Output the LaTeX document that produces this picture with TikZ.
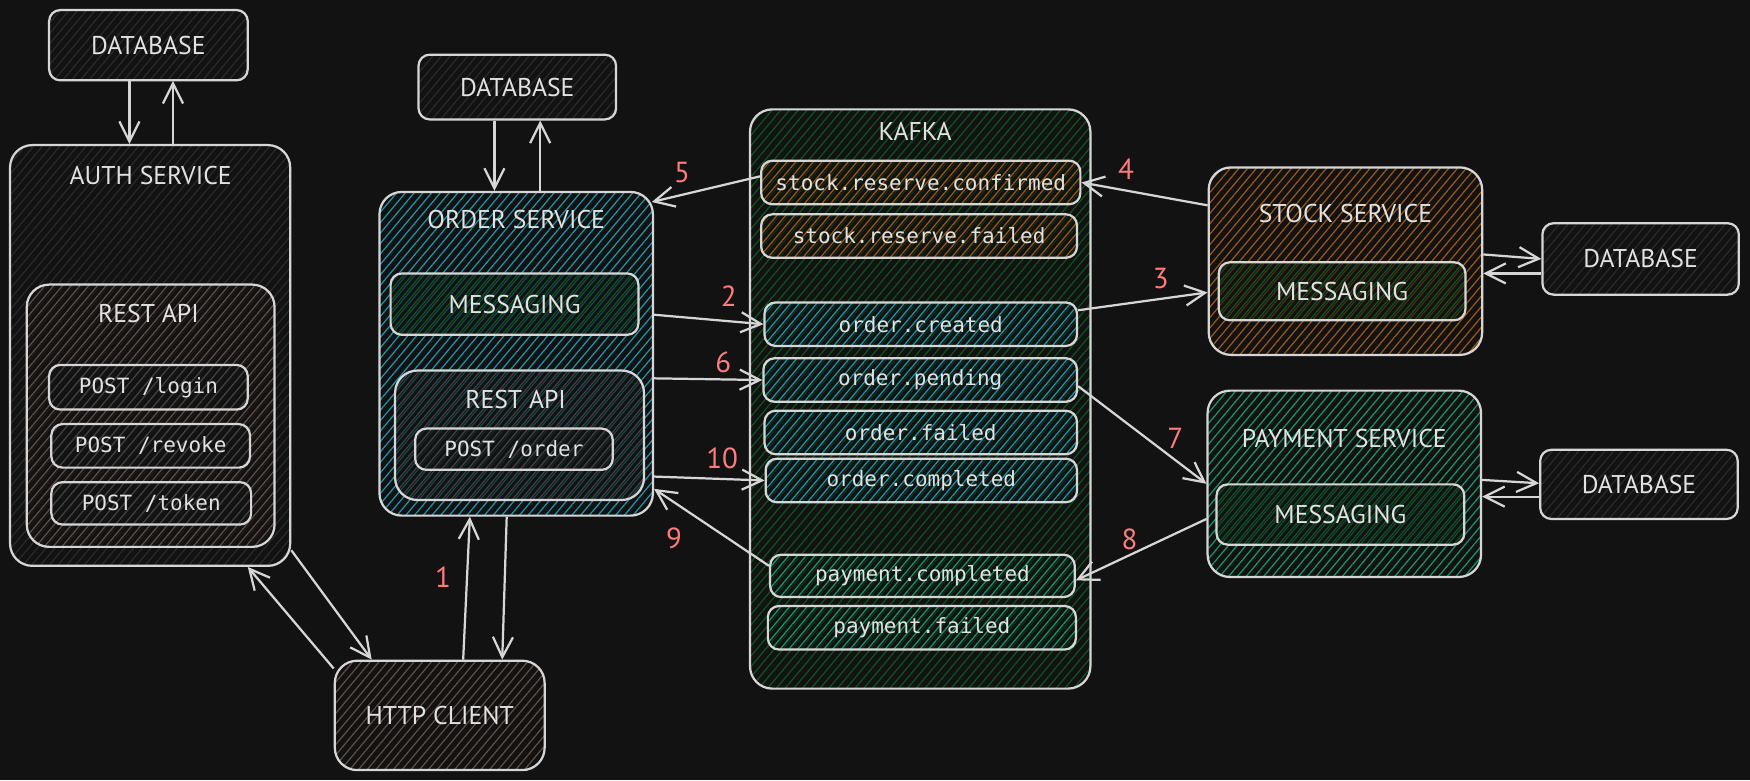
\documentclass[tikz,border=0pt]{standalone}
\usepackage{fontspec}
\setmainfont{PT Sans}
\newfontfamily\codefont{DejaVu Sans Mono}
\usetikzlibrary{patterns.meta,arrows.meta,calc}
\definecolor{bgc}{RGB}{18,18,18}
\definecolor{linec}{RGB}{214,214,214}
\definecolor{txtc}{RGB}{226,226,226}
\definecolor{numc}{RGB}{255,122,122}
\definecolor{hfaint}{RGB}{42,42,42}
\definecolor{hgray}{RGB}{64,64,64}
\definecolor{hbrown}{RGB}{98,78,68}
\definecolor{hcyan}{RGB}{24,150,172}
\definecolor{hdgreen}{RGB}{12,84,30}
\definecolor{horange}{RGB}{155,88,16}
\definecolor{hteal}{RGB}{18,150,110}
\tikzset{
  sz/.style 2 args={minimum width=#1*0.5pt, minimum height=#2*0.5pt},
  outerbox/.style={draw=linec, line width=1pt, rounded corners=10pt,
    preaction={fill=bgc},
    pattern={Lines[angle=50,distance=3pt,line width=0.55pt]}, pattern color=#1,
    text=txtc, inner sep=0pt, font=\fontsize{11.5}{13}\selectfont},
  innerbox/.style={draw=linec, line width=1pt, rounded corners=5pt,
    preaction={fill=bgc, fill opacity=0.6},
    pattern={Lines[angle=50,distance=3pt,line width=0.55pt,yshift=1.5pt]}, pattern color=#1,
    text=txtc, inner sep=0pt, font=\fontsize{11.5}{13}\selectfont},
  topic/.style={innerbox=#1, font=\codefont\fontsize{9.4}{11}\selectfont},
  ttl/.style={text=txtc, inner sep=0pt, font=\fontsize{11.5}{13}\selectfont},
  num/.style={text=numc, inner sep=0pt, font=\fontsize{13}{15}\selectfont},
  arr/.style={draw=linec, line width=1pt, -{Straight Barb[length=9pt,width=9pt,line width=1pt]}},
}
\begin{document}
\begin{tikzpicture}[x=0.5pt,y=-0.5pt]
\fill[bgc] (0,0) rectangle (1568,699);
\useasboundingbox (0,0) rectangle (1568,699);

% ---------- auth side
\node[outerbox=hfaint, sz={178}{63}, rounded corners=5pt] (adb) at (133,40.5) {DATABASE};
\node[outerbox=hfaint, sz={251}{377}] (auth) at (134.5,318.5) {};
\node[ttl] (authT) at (135,157) {AUTH SERVICE};
\node[innerbox=hbrown, sz={222}{235}, rounded corners=10pt] (arest) at (135,372.5) {};
\node[ttl] (arestT) at (133,281) {REST API};
\node[topic=hgray, sz={178}{40}] (login) at (133,347) {POST /login};
\node[topic=hgray, sz={178}{39}] (revoke) at (135,399.5) {POST /revoke};
\node[topic=hgray, sz={179}{38}] (token) at (135.5,451) {POST /token};

% ---------- http client
\node[outerbox=hbrown, sz={188}{98}] (http) at (394,641) {HTTP CLIENT};

% ---------- order side
\node[outerbox=hfaint, sz={177}{58}, rounded corners=5pt] (odb) at (463.5,78) {DATABASE};
\node[outerbox=hcyan, sz={245}{290}] (order) at (462.5,317) {};
\node[ttl] (orderT) at (462.5,197) {ORDER SERVICE};
\node[innerbox=hdgreen, sz={222}{55}] (omsg) at (461,272.5) {MESSAGING};
\node[innerbox=hgray, sz={223}{116}, rounded corners=10pt] (orest) at (465.5,390) {};
\node[ttl] (orestT) at (462,358) {REST API};
\node[topic=hgray, sz={177}{37}] (porder) at (460.5,402.5) {POST /order};

% ---------- kafka
\node[outerbox=hdgreen, sz={305}{519}] (kafka) at (824.5,357.5) {};
\node[ttl] (kafkaT) at (820,118) {KAFKA};
\node[topic=horange, sz={286}{39}] (t1) at (825,163.5) {stock.reserve.confirmed};
\node[topic=horange, sz={283}{39}] (t2) at (823.5,211.5) {stock.reserve.failed};
\node[topic=hcyan, sz={280}{39}] (t3) at (825,290.5) {\raisebox{-2pt}{order.created}};
\node[topic=hcyan, sz={281}{39}] (t4) at (824.5,340.5) {order.pending};
\node[topic=hcyan, sz={280}{39}] (t5) at (825,387.5) {order.failed};
\node[topic=hcyan, sz={279}{39}] (t6) at (825.5,430.5) {order.completed};
\node[topic=hteal, sz={273}{38}] (t7) at (826.5,516) {payment.completed};
\node[topic=hteal, sz={276}{39}] (t8) at (826,562.5) {payment.failed};

% ---------- stock
\node[outerbox=horange, sz={245}{168}] (stock) at (1205.5,234) {};
\node[ttl] (stockT) at (1205.5,191) {STOCK SERVICE};
\node[innerbox=hdgreen, sz={221}{52}] (smsg) at (1202.5,261) {MESSAGING};
\node[outerbox=hfaint, sz={176}{64}, rounded corners=5pt] (sdb) at (1470,232) {DATABASE};

% ---------- payment
\node[outerbox=hteal, sz={245}{167}] (pay) at (1204.5,433.5) {};
\node[ttl] (payT) at (1204.5,393) {PAYMENT SERVICE};
\node[innerbox=hdgreen, sz={222}{54}] (pmsg) at (1201,461) {MESSAGING};
\node[outerbox=hfaint, sz={177}{62}, rounded corners=5pt] (pdb) at (1468.5,434) {DATABASE};

% ---------- connectors
\draw[arr] ([xshift=-8.5pt]adb.south) -- ([xshift=-9.25pt]auth.north);
\draw[arr] ([xshift=10.25pt]auth.north) -- ([xshift=11pt]adb.south);
\draw[arr] ([xshift=-10.25pt]odb.south) -- ([xshift=-9.75pt]order.north);
\draw[arr] ([xshift=10.75pt]order.north) -- ([xshift=10.25pt]odb.south);

\draw[arr] ([yshift=7.5pt]auth.south east) -- ([xshift=-30.5pt]http.north);
\draw[arr] ([yshift=-4pt]http.north west) -- ([xshift=43.75pt]auth.south);
\draw[arr] ([xshift=10.5pt]http.north) -- ([xshift=-20.75pt]order.south);
\draw[arr] ([xshift=-4.25pt]order.south) -- ([xshift=28pt]http.north);

\draw[arr] ([yshift=17.5pt]order.east) -- (t3.west);
\draw[arr] ([yshift=-11pt]order.east) -- (t4.west);
\draw[arr] ([yshift=-55pt]order.east) -- (t6.west);
\draw[arr] ([yshift=4.5pt]t7.west) -- ([yshift=-60.5pt]order.east);
\draw[arr] ([yshift=2.75pt]t1.west) -- ([xshift=-1pt,yshift=-5pt]order.north east);
\draw[arr] ([yshift=25pt]stock.west) -- (t1.east);
\draw[arr] ([yshift=6.25pt]t3.east) -- ([yshift=-14pt]stock.west);
\draw[arr] ([yshift=-2.75pt]t4.east) -- (pay.west);
\draw[arr] ([yshift=-15.75pt]pay.west) -- ([yshift=-2pt]t7.east);

\draw[arr] ([yshift=3pt]stock.east) -- (sdb.west);
\draw[arr] ([yshift=-6.5pt]sdb.west) -- ([yshift=-5.5pt]stock.east);
\draw[arr] ([yshift=1.75pt]pay.east) -- ([yshift=0.5pt]pdb.west);
\draw[arr] ([yshift=-5.5pt]pdb.west) -- ([yshift=-5.75pt]pay.east);

% ---------- step numbers
\node[num] (n1) at (397,517) {1};
\node[num] (n2) at (653,265) {2};
\node[num] (n3) at (1040,250) {3};
\node[num] (n4) at (1009,152) {4};
\node[num] (n5) at (611,155) {5};
\node[num] (n6) at (648,325) {6};
\node[num] (n7) at (1053,393) {7};
\node[num] (n8) at (1012,483) {8};
\node[num] (n9) at (604,482) {9};
\node[num] (n10) at (647,411) {10};
\end{tikzpicture}
\end{document}
